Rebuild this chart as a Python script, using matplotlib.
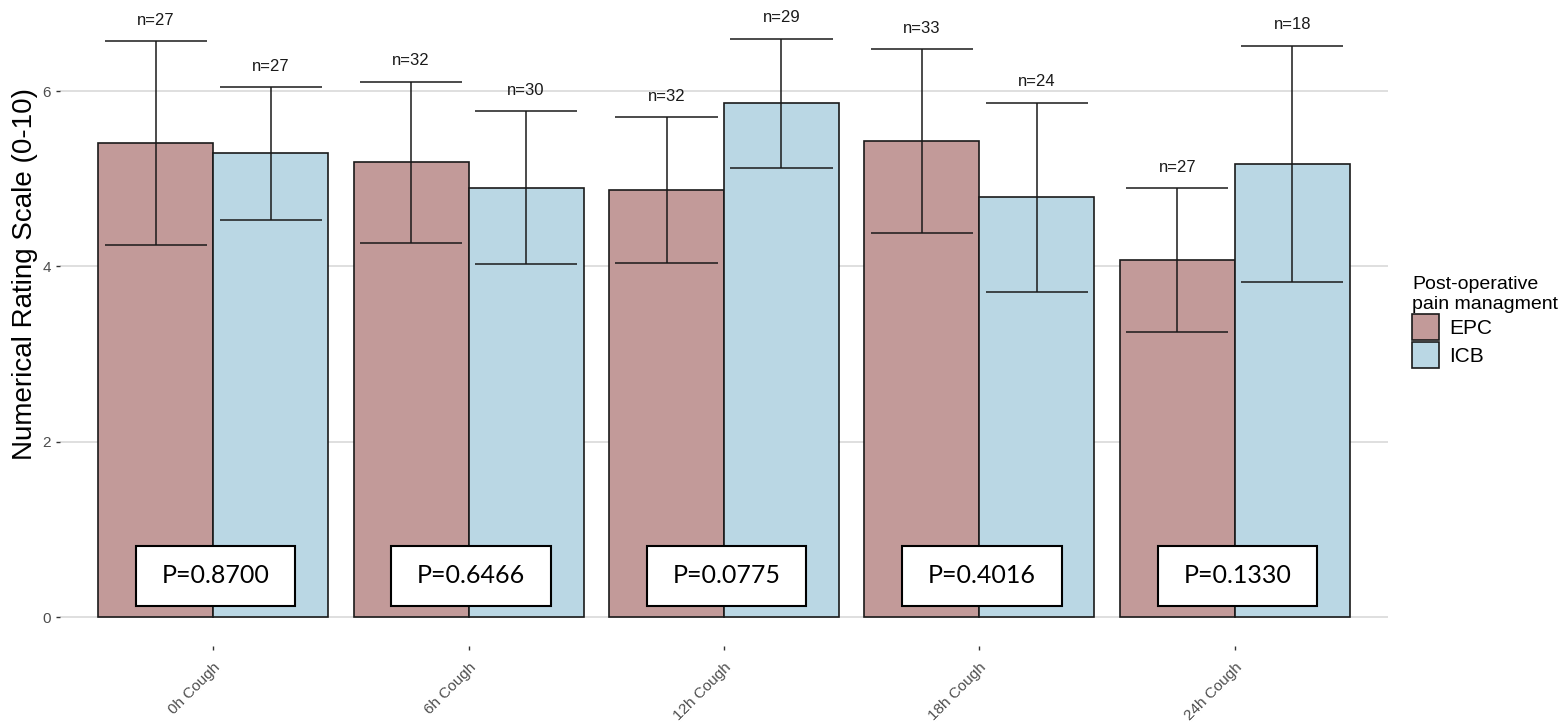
import numpy as np
import matplotlib

matplotlib.use("Agg")
import matplotlib.pyplot as plt
from matplotlib.patches import Patch, Rectangle

# mean pain scores (NRS 0-10) while coughing, with error-bar half widths
TIMEPOINTS = ["0h Cough", "6h Cough", "12h Cough", "18h Cough", "24h Cough"]
GROUPS = ["EPC", "ICB"]
EPC_MEAN = [5.41, 5.19, 4.87, 5.43, 4.07]
EPC_ERR = [1.16, 0.92, 0.83, 1.05, 0.82]
ICB_MEAN = [5.29, 4.90, 5.86, 4.79, 5.17]
ICB_ERR = [0.76, 0.87, 0.74, 1.08, 1.35]
EPC_N = [27, 32, 32, 33, 27]
ICB_N = [27, 30, 29, 24, 18]
P_VALUES = ["0.8700", "0.6466", "0.0775", "0.4016", "0.1330"]

COLORS = {"EPC": "#C29A99", "ICB": "#BAD7E4"}
BAR_W = 0.45
CAP_W = 0.4
LABEL_GAP = 0.235
TICK_GREY = "#4D4D4D"

plt.rcParams["font.family"] = ["Liberation Sans", "DejaVu Sans"]

fig = plt.figure(figsize=(15.66, 7.22), dpi=100)
ax = fig.add_axes([60 / 1566, 76 / 722, 1328 / 1566, 646 / 722])

x = np.arange(1, len(TIMEPOINTS) + 1)
series = [
    ("EPC", EPC_MEAN, EPC_ERR, EPC_N, -BAR_W / 2),
    ("ICB", ICB_MEAN, ICB_ERR, ICB_N, BAR_W / 2),
]
for name, mean, err, n, off in series:
    xs = x + off
    ax.bar(xs, mean, width=BAR_W, color=COLORS[name], edgecolor="#1a1a1a",
           linewidth=1.2, zorder=2)
    ax.errorbar(xs, mean, yerr=err, fmt="none", ecolor="#1a1a1a",
                elinewidth=1.1, capsize=0, zorder=3)
    top = np.array(mean) + np.array(err)
    bot = np.array(mean) - np.array(err)
    ax.hlines(top, xs - CAP_W / 2, xs + CAP_W / 2, color="#1a1a1a", lw=1.1, zorder=3)
    ax.hlines(bot, xs - CAP_W / 2, xs + CAP_W / 2, color="#1a1a1a", lw=1.1, zorder=3)
    for xi, yi, ni in zip(xs, top, n):
        ax.text(xi, yi + LABEL_GAP, "n=%d" % ni, ha="center", va="center",
                fontsize=12, color="#1a1a1a")

# p-value boxes sitting at the foot of each pair of bars
for xi, p in zip(x, P_VALUES):
    ax.add_patch(Rectangle((xi + 0.01 - 0.312, 0.47 - 0.342), 0.624, 0.684,
                           facecolor="white", edgecolor="black", lw=1.5, zorder=4))
    ax.text(xi + 0.01, 0.47, "P=%s" % p, ha="center", va="center",
            fontsize=18, family=["Lato", "DejaVu Sans"], color="black", zorder=5)

ax.set_xlim(0.4, 5.6)
ax.set_ylim(-0.33, 7.04)
ax.set_yticks([0, 2, 4, 6])
ax.set_xticks(x)
ax.set_xticklabels(TIMEPOINTS, rotation=45, ha="right", va="top",
                   rotation_mode="anchor")
ax.tick_params(axis="both", colors="#333333", labelcolor=TICK_GREY,
               labelsize=11, length=3, width=1)
ax.tick_params(axis="x", pad=7)
ax.grid(axis="y", color="#DCDCDC", lw=1.3, zorder=0)
ax.set_axisbelow(True)
for s in ax.spines.values():
    s.set_visible(False)

fig.text(25 / 1566, 1 - 274 / 722, "Numerical Rating Scale (0-10)", rotation=90,
         ha="center", va="center", fontsize=20, color="black")

handles = [Patch(facecolor=COLORS[g], edgecolor="#1a1a1a", lw=1.2, label=g)
           for g in GROUPS]
leg = fig.legend(handles=handles, title="Post-operative\npain managment",
                 loc="upper left", bbox_to_anchor=(1412 / 1566, 1 - 276 / 722),
                 frameon=False, fontsize=15, title_fontsize=14,
                 handlelength=1.3, handleheight=1.55, labelspacing=0.08,
                 handletextpad=0.5, borderpad=0, borderaxespad=0,
                 alignment="left")

fig.savefig("out.png", dpi=100, facecolor="white")
